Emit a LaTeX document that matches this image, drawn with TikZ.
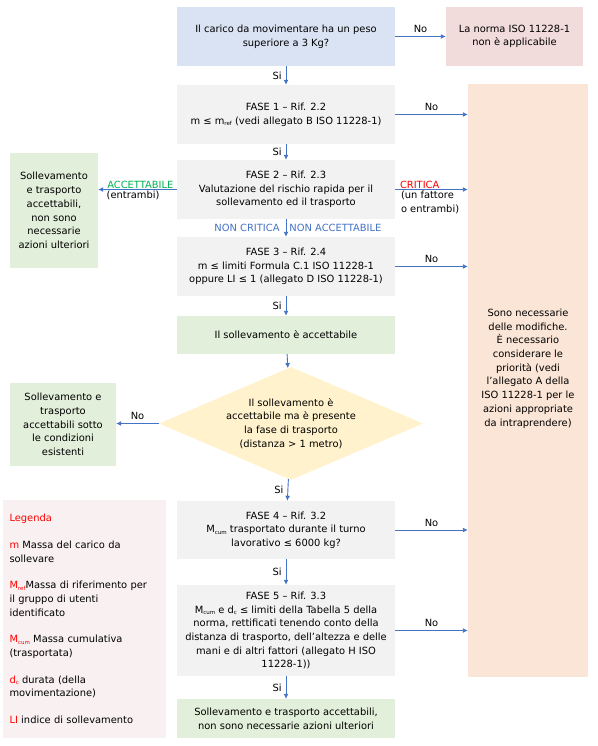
\documentclass[tikz,border=0pt]{standalone}
\usepackage{fontspec}
\setmainfont{DejaVu Sans}
\usetikzlibrary{shapes.geometric,arrows.meta}

\definecolor{azulc}{HTML}{DAE3F3}
\definecolor{rosa}{HTML}{F2DCDB}
\definecolor{gris}{HTML}{F2F2F2}
\definecolor{verdec}{HTML}{E2EFDA}
\definecolor{naranja}{HTML}{FBE5D6}
\definecolor{amarillo}{HTML}{FFF2CC}
\definecolor{leyenda}{HTML}{F9F1F1}
\definecolor{flecha}{HTML}{4472C4}
\definecolor{verdet}{HTML}{00B050}

\newcommand{\tam}{\fontsize{9.9}{13.7}\selectfont}
\newcommand{\sbi}[1]{\raisebox{-0.3ex}{\fontsize{5.5}{6}\selectfont #1}}

\tikzset{caja/.style={fill=#1, align=center, inner sep=0pt, font=\tam},
         fase/.style={caja=gris, minimum width=218pt, minimum height=59pt},
         flc/.style={flecha, line width=0.9pt, -{Latex[length=5pt,width=5pt]}},
         etq/.style={font=\tam, text=black, inner sep=1pt}}

\begin{document}
\begin{tikzpicture}[x=1pt, y=-1pt]
  \useasboundingbox (0,0) rectangle (597,746);

  % columna central
  \node[caja=azulc, minimum width=218pt, minimum height=59pt] (q0) at (286,36.5)
    {Il carico da movimentare ha un peso\\superiore a 3 Kg?};
  \node[caja=rosa, minimum width=137pt, minimum height=59pt] (norma) at (514.5,36.5)
    {La norma ISO 11228-1\\non è applicabile};
  \node[fase] (f1) at (286,114.5)
    {FASE 1 – Rif. 2.2\\m ≤ m\sbi{ref} (vedi allegato B ISO 11228-1)};
  \node[fase] (f2) at (286,189.5)
    {FASE 2 – Rif. 2.3\\Valutazione del rischio rapida per il\\sollevamento ed il trasporto};
  \node[fase] (f3) at (286,266.5)
    {FASE 3 – Rif. 2.4\\m ≤ limiti Formula C.1 ISO 11228-1\\oppure LI ≤ 1 (allegato D ISO 11228-1)};
  \node[caja=verdec, minimum width=218pt, minimum height=38pt] (acc) at (286,335)
    {Il sollevamento è accettabile};
  \node[caja=amarillo, diamond, aspect=2.3, minimum width=264pt, minimum height=113pt] (dia) at (291,423.5)
    {Il sollevamento è\\accettabile ma è presente\\la fase di trasporto\\(distanza > 1 metro)};
  \node[fase, minimum height=58pt] (f4) at (286,530)
    {FASE 4 – Rif. 3.2\\M\sbi{cum} trasportato durante il turno\\lavorativo ≤ 6000 kg?};
  \node[fase, minimum height=91pt] (f5) at (286,630.5)
    {FASE 5 – Rif. 3.3\\M\sbi{cum} e d\sbi{c} ≤ limiti della Tabella 5 della\\norma, rettificati tenendo conto della\\distanza di trasporto, dell'altezza e delle\\mani e di altri fattori (allegato H ISO\\11228-1))};
  \node[caja=verdec, minimum width=218pt, minimum height=39pt] (fin) at (286,718.5)
    {Sollevamento e trasporto accettabili,\\non sono necessarie azioni ulteriori};

  % laterali
  \node[caja=verdec, minimum width=88pt, minimum height=115pt] (lato1) at (54,210.5)
    {Sollevamento\\e trasporto\\accettabili,\\non sono\\necessarie\\azioni ulteriori};
  \node[caja=verdec, minimum width=106pt, minimum height=83pt] (lato2) at (63,424.5)
    {Sollevamento e\\trasporto\\accettabili sotto\\le condizioni\\esistenti};
  \node[caja=naranja, minimum width=120pt, minimum height=593pt] (modif) at (528,380.5) {};
  \node[font=\tam, align=center, inner sep=0pt] (modtxt) at (528,368.5)
    {Sono necessarie\\delle modifiche.\\È necessario\\considerare le\\priorità (vedi\\l’allegato A della\\ISO 11228-1 per le\\azioni appropriate\\da intraprendere)};
  \node[caja=leyenda, align=left, text width=150pt, minimum width=163pt, minimum height=238pt] (leg) at (84.5,619)
    {\textcolor{red}{Legenda}\\[13pt]
     \textcolor{red}{m} Massa del carico da\\sollevare\\[13pt]
     \textcolor{red}{M\sbi{ref}}Massa di riferimento per\\il gruppo di utenti\\identificato\\[13pt]
     \textcolor{red}{M\sbi{cum}} Massa cumulativa\\(trasportata)\\[13pt]
     \textcolor{red}{d\sbi{c}} durata (della\\movimentazione)\\[13pt]
     \textcolor{red}{LI} indice di sollevamento};

  % frecce verticali
  \draw[flc] (q0) -- node[etq, left=3pt] {Si} (f1);
  \draw[flc] (f1) -- node[etq, left=3pt] {Si} (f2);
  \draw[flc] (f2) -- node[etq, left=5pt, text=flecha] {NON CRITICA}
                     node[etq, right=2pt, text=flecha] {NON ACCETTABILE} (f3);
  \draw[flc] (f3) -- node[etq, left=3pt] {Si} (acc);
  \draw[flc] (acc) -- (dia);
  \draw[flc] (dia) -- node[etq, left=3pt] {Si} (f4);
  \draw[flc] (f4) -- node[etq, left=3pt] {Si} (f5);
  \draw[flc] (f5) -- node[etq, left=3pt] {Si} (fin);

  % frecce orizzontali
  \draw[flc] (q0.east) -- node[etq, above=2pt] {No} (norma.west);
  \draw[flc] (f1.east) -- node[etq, above=2pt] {No} (f1.east -| modif.west);
  \draw[flc] (f2.east) -- node[etq, text=red, pos=0.06, anchor=south west, inner sep=0pt] {CRITICA}
                          node[etq, align=left, pos=0.06, anchor=north west, inner sep=1pt] {(un fattore\\o entrambi)}
                          (f2.east -| modif.west);
  \draw[flc] (f2.west) -- node[etq, text=verdet, pos=0.0, anchor=south east, inner sep=0pt, xshift=-3pt] {ACCETTABILE}
                          node[etq, pos=1, anchor=north west, xshift=7pt] {(entrambi)}
                          (f2.west -| lato1.east);
  \draw[flc] (f3.east) -- node[etq, above=2pt] {No} (f3.east -| modif.west);
  \draw[flc] (dia.west) -- node[etq, above=2pt] {No} (dia.west -| lato2.east);
  \draw[flc] (f4.east) -- node[etq, above=2pt] {No} (f4.east -| modif.west);
  \draw[flc] (f5.east) -- node[etq, above=2pt] {No} (f5.east -| modif.west);
\end{tikzpicture}
\end{document}
